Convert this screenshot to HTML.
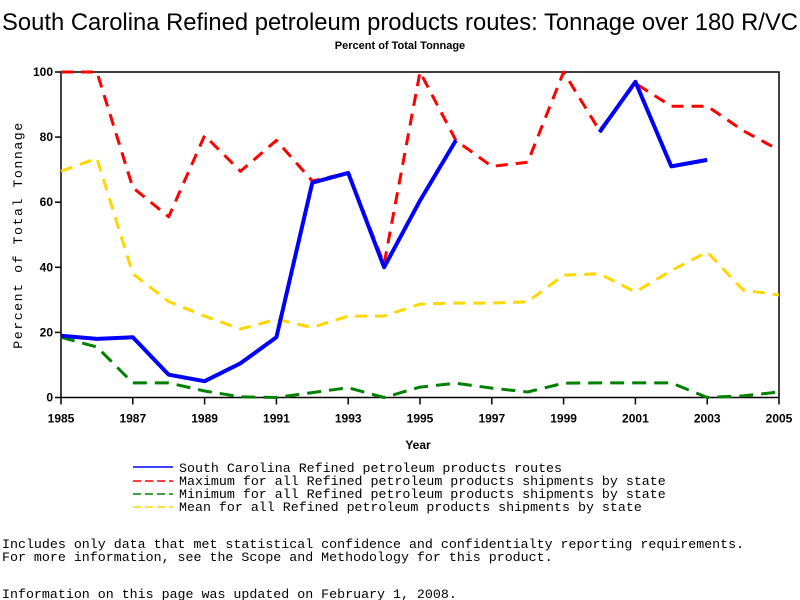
<!DOCTYPE html>
<html><head><meta charset="utf-8"><style>
body{margin:0;background:#fff}
svg{display:block}
.mono{font-family:"Liberation Mono",monospace;font-size:13.3px}
.tick{font-family:"Liberation Sans",sans-serif;font-size:12px;font-weight:bold}
</style></head><body>
<svg id="chart" width="800" height="600" xmlns="http://www.w3.org/2000/svg">
<text x="400" y="30" text-anchor="middle" font-family="Liberation Sans, sans-serif" font-size="23.8">South Carolina Refined petroleum products routes: Tonnage over 180 R/VC</text>
<text x="400" y="49" text-anchor="middle" font-family="Liberation Sans, sans-serif" font-size="11" font-weight="bold">Percent of Total Tonnage</text>
<g id="plot"></g>
<text x="418" y="449" text-anchor="middle" class="tick">Year</text>
<text transform="translate(22,235) rotate(-90)" text-anchor="middle" class="mono" font-size="12" letter-spacing="1.5">Percent of Total Tonnage</text>
<g>
<line x1="133" y1="467" x2="173" y2="467" stroke="#0000ff" stroke-width="1.5"/>
<text x="179" y="472" class="mono">South Carolina Refined petroleum products routes</text>
<line x1="133" y1="481" x2="173" y2="481" stroke="#ff0000" stroke-width="1.5" stroke-dasharray="8,4"/>
<text x="179" y="485" class="mono">Maximum for all Refined petroleum products shipments by state</text>
<line x1="133" y1="494" x2="173" y2="494" stroke="#008000" stroke-width="1.5" stroke-dasharray="8,4"/>
<text x="179" y="498" class="mono">Minimum for all Refined petroleum products shipments by state</text>
<line x1="133" y1="507" x2="173" y2="507" stroke="#ffd700" stroke-width="1.5" stroke-dasharray="8,4"/>
<text x="179" y="511" class="mono">Mean for all Refined petroleum products shipments by state</text>
</g>
<text x="2" y="548" class="mono">Includes only data that met statistical confidence and confidentialty reporting requirements.</text>
<text x="2" y="561" class="mono">For more information, see the Scope and Methodology for this product.</text>
<text x="2" y="598" class="mono">Information on this page was updated on February 1, 2008.</text>
</svg>
<script>
const years=[1985,1986,1987,1988,1989,1990,1991,1992,1993,1994,1995,1996,1997,1998,1999,2000,2001,2002,2003,2004,2005];
const scValues=[19,18,18.5,7,5,10.5,18.5,66,69,40,60.5,79,null,null,null,81.5,97,71,73,null,null];
const maxValues=[100,100,64.5,55.5,80.5,69.5,79,66.5,69,41,100,79,71,72.3,100,82,96.5,89.5,89.5,82,76];
const minValues=[18.5,15.5,4.5,4.5,2,0.2,0,1.5,3,0,3.2,4.4,2.9,1.7,4.4,4.5,4.5,4.5,0,0.5,1.7];
const meanValues=[69.5,73.5,38,29.5,25,21,24,21.5,25,25,28.7,29,29,29.4,37.6,38,32.4,39,44.7,33,31.5];
const xTicks=[1985,1987,1989,1991,1993,1995,1997,1999,2001,2003,2005];
const yTicks=[0,20,40,60,80,100];
const X0=61,X1=779,Y0=397.5,Y1=72;
function xs(v){return X0+(v-1985)/(2005-1985)*(X1-X0);}
function ys(v){return Y0-v/100*(Y0-Y1);}
const NS="http://www.w3.org/2000/svg";
const g=document.getElementById('plot');
function mk(t,a){const e=document.createElementNS(NS,t);for(const k in a)e.setAttribute(k,a[k]);g.appendChild(e);return e;}
const frame=mk('rect',{x:X0,y:Y1,width:X1-X0,height:Y0-Y1,fill:'none',stroke:'#000','stroke-width':1.5});


xTicks.forEach(t=>{
 const l=mk('line',{x1:xs(t),x2:xs(t),y1:Y0,y2:Y0+7,stroke:'#000','stroke-width':1.5});
 
 
 const tx=mk('text',{x:xs(t),y:Y0+25,'text-anchor':'middle',class:'tick'});tx.textContent=t;
 
 
});
yTicks.forEach(t=>{
 const l=mk('line',{x1:X0-6,x2:X0,y1:ys(t),y2:ys(t),stroke:'#000','stroke-width':1.5});
 
 
 const tx=mk('text',{x:X0-8,y:ys(t)+4,'text-anchor':'end',class:'tick'});tx.textContent=t;
 
 
});
function series(vals,color,w,dash,name){
 let d='',pen=false;
 vals.forEach((v,i)=>{if(v===null){pen=false;return;}d+=(pen?'L':'M')+xs(years[i]).toFixed(1)+' '+ys(v).toFixed(1)+' ';pen=true;});
 const p=mk('path',{d:d,fill:'none',stroke:color,'stroke-width':w,'stroke-linejoin':'round'});
 if(dash)p.setAttribute('stroke-dasharray',dash);
 
 
}
series(meanValues,'#ffd700',3,'12,8','series-mean');
series(minValues,'#008000',3,'14,8','series-min');
series(maxValues,'#ff0000',3,'12,8','series-max');
series(scValues,'#0000ff',4,null,'series-south-carolina');
</script>
</body></html>
